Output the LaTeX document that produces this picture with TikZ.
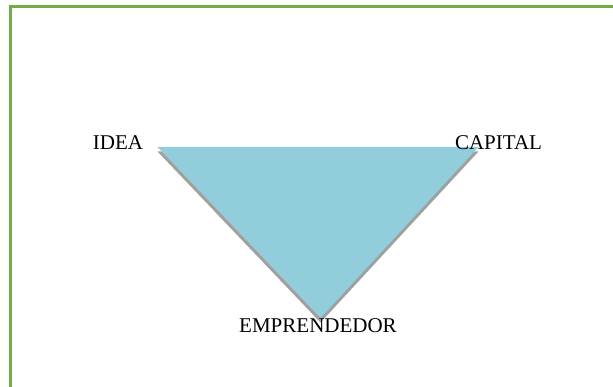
\documentclass[tikz,border=0pt]{standalone}
\usepackage{fontspec}
\setmainfont{Liberation Serif}
\definecolor{framegreen}{HTML}{70AD47}
\definecolor{trifill}{HTML}{92CDDC}
\definecolor{trishadow}{HTML}{A0A0A0}
\tikzset{
  lbl/.style={font=\fontsize{21}{24}\selectfont, inner sep=0pt, anchor=base},
}
\begin{document}
\begin{tikzpicture}[x=1pt,y=-1pt]
\useasboundingbox (0,0) rectangle (613,387);
\draw[framegreen, line width=2.5pt] (10.7,400) -- (10.7,6.3) -- (630,6.3);
\coordinate (tl) at (157.5,147);
\coordinate (tr) at (478.5,147);
\coordinate (bt) at (320.5,318);
\fill[trishadow] ([yshift=-4.5pt]tl) -- ([yshift=-4.5pt]tr) -- ([yshift=-4.5pt]bt) -- cycle;
\fill[trifill] (tl) -- (tr) -- (bt) -- cycle;
\node[lbl] (idea) at (118,150) {IDEA};
\node[lbl] (capital) at (498.5,150) {CAPITAL};
\node[lbl] (empr) at (318,333) {EMPRENDEDOR};
\end{tikzpicture}
\end{document}
